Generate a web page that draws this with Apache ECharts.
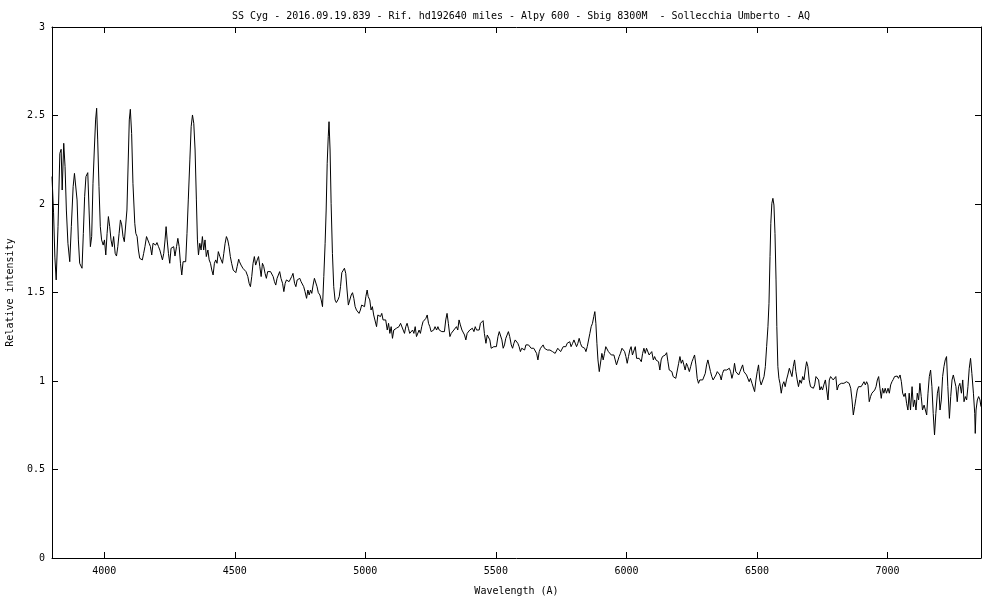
<!DOCTYPE html>
<html>
<head>
<meta charset="utf-8">
<script src="https://cdn.jsdelivr.net/npm/echarts@6/dist/echarts.min.js"></script>
<style>html,body{margin:0;padding:0;background:#fff;}#c{width:1000px;height:600px;}</style>
</head>
<body>
<div id="c"></div>
<script>
const titleText = 'SS Cyg - 2016.09.19.839 - Rif. hd192640 miles - Alpy 600 - Sbig 8300M  - Sollecchia Umberto - AQ';
const xName = 'Wavelength (A)';
const yName = 'Relative intensity';
const xTicks = [4000, 4500, 5000, 5500, 6000, 6500, 7000];

const wavelength = [
3800,3806,3811,3816,3823,3830,3835,3839,3845,3850,3855,3861,3868,3874,3881,3886,3891,3896,3901,3906,3915,3920,3925,3930,3937,3942,3947,3952,3957,3962,3967,3971,3975,3980,3985,3990,3996,4001,4006,4011,4016,4021,4026,4031,4036,4042,4047,4052,4057,4062,4067,4072,4077,4082,4087,4093,4096,4100,4105,4110,4117,4121,4126,4131,4136,4141,4146,4151,4156,4162,4167,4172,4177,4182,4187,4192,4197,4202,4208,4213,4218,4223,4228,4233,4237,4241,4246,4251,4256,4261,4266,4271,4277,4282,4287,4292,4297,4302,4307,4312,4317,4322,4328,4333,4338,4343,4348,4353,4357,4361,4366,4371,4376,4381,4386,4391,4397,4402,4407,4412,4417,4422,4427,4432,4437,4443,4448,4453,4458,4463,4468,4473,4478,4483,4488,4494,4499,4504,4509,4515,
4518,4524,4531,4537,4543,4550,4555,4560,4565,4570,4575,4580,4586,4591,4596,4601,4606,4611,4616,4621,4626,4631,4637,4642,4647,4652,4657,4662,4667,4672,4677,4683,4688,4693,4698,4703,4708,4713,4718,4723,4729,4734,4739,4744,4749,4754,4759,4764,4769,4775,4780,4785,4790,4795,4800,4805,4810,4815,4820,4826,4831,4836,4841,4846,4850,4854,4858,4861,4865,4869,4874,4879,4884,4889,4895,4900,4905,4910,4915,4920,4925,4930,4935,4941,4946,4951,4956,4961,4966,4971,4976,4981,4986,4992,4997,5002,5007,
5011,5017,5022,5027,5032,5038,5043,5048,5053,5058,5063,5068,5073,5078,5084,5089,5094,5099,5104,5109,5114,5119,5124,5129,5135,5140,5145,5150,5155,5160,5165,5170,5175,5181,5186,5191,5196,5201,5206,5211,5216,5221,5227,5232,5237,5242,5247,5252,5257,5262,5267,5273,5278,5283,5288,5293,5298,5303,5308,5313,5318,5324,5329,5334,5339,5344,5349,5354,5359,5364,5370,5375,5380,5385,5390,5395,5400,5405,5410,5416,5421,5426,5431,5436,5441,5446,5451,5456,5462,5467,5472,5477,5482,5487,5492,5497,5502,5508,5513,5518,5523,5528,5533,5538,5543,5548,5553,5559,5564,5569,5574,5579,5584,5589,5594,5599,5605,5610,5615,5620,5625,5630,5635,5640,5645,5651,5656,5661,5666,5671,5676,5681,5686,5691,5697,5702,5707,5712,5717,5722,5727,5732,5737,5742,5748,5753,5758,5763,5768,5773,5778,5783,5788,5794,5799,5804,5809,5814,5819,5824,5829,5834,5840,5845,5850,5855,5860,5865,5870,5875,5879,5883,5887,5891,5896,5901,5906,5911,5916,5921,5926,5931,5937,5942,5947,5952,5957,5962,5967,5972,5977,5983,5988,5993,5998,6003,6008,6013,6018,6023,6028,6034,6039,6044,6049,
6052,6057,6062,6067,6072,6077,6082,6087,6092,6097,6103,6108,6113,6118,6123,6128,6133,6138,6143,6149,6154,6159,6164,6169,6174,6179,6184,6189,6195,6200,6205,6210,6215,6220,6225,6230,6235,6241,6246,6251,6256,6261,6266,6271,6276,6281,6286,6292,6297,6302,6307,6312,6317,6322,6327,6332,6338,6343,6348,6353,6358,6363,6368,6373,6378,6384,6389,6394,6399,6404,6409,6414,6419,6424,6430,6435,6440,6445,6450,6455,6460,6465,6470,6475,6481,6486,6491,6496,6501,6506,6511,6516,6521,6527,6532,6537,6542,6546,6550,6553,6557,6561,6565,6569,6573,6576,6580,6584,6588,6593,6598,6603,6608,6613,6618,6624,6629,6634,6639,6644,6649,6654,6659,6664,6670,6675,6680,6685,6690,6695,6700,6705,6710,6716,6721,6726,6731,6736,6741,6746,6751,6756,6762,6767,6772,6777,6782,6787,6792,6797,6802,6807,6813,6818,6823,6828,6833,6838,6843,6848,6853,6859,6864,6869,6874,6879,6884,6889,6894,6899,6905,6910,6915,6920,6925,6930,6935,6940,6945,6951,6956,6961,6966,6971,6976,6981,6986,6991,6996,7002,7007,7012,7017,7022,7027,7032,7037,7042,7048,7053,7058,7063,7068,7073,7078,7083,7088,7094,7099,7104,7109,7114,7119,7124,7129,7134,7140,7145,7150,7155,7160,7165,7170,7175,7180,7185,7191,7196,7201,7206,7211,7216,7221,7226,7231,7237,7242,7247,7252,7257,7262,7267,7272,7277,7283,7288,7293,7298,7303,7308,7313,7318,7323,7329,7334,7336,7339,7344,7349,7354,7358
];

const intensity = [
2.155,1.95,1.70,1.571,1.872,2.286,2.309,2.079,2.343,2.211,1.966,1.778,1.674,1.872,2.098,2.173,2.183,2.023,1.797,1.665,1.637,1.834,2.041,2.155,2.177,1.966,1.759,1.816,2.117,2.305,2.475,2.541,2.362,2.098,1.872,1.797,1.768,1.797,1.712,1.834,1.929,1.872,1.797,1.759,1.816,1.721,1.706,1.759,1.834,1.910,1.882,1.816,1.787,1.797,1.966,2.305,2.475,2.535,2.399,2.117,1.891,1.834,1.816,1.740,1.693,1.703,1.684,1.721,1.759,1.816,1.797,1.778,1.759,1.712,1.778,1.787,1.768,1.782,1.759,1.740,1.712,1.684,1.721,1.797,1.872,1.797,1.721,1.665,1.750,1.759,1.759,1.706,1.759,1.806,1.759,1.665,1.599,1.674,1.665,1.674,1.834,2.023,2.249,2.437,2.503,2.456,2.305,2.023,1.797,1.712,1.778,1.740,1.816,1.740,1.797,1.703,1.740,1.684,1.665,1.627,1.599,1.665,1.684,1.665,1.731,1.703,1.684,1.665,1.721,1.778,1.816,1.797,1.759,1.703,1.665,1.627,1.631,1.612,1.646,1.688,
1.674,1.655,1.637,1.627,1.618,1.590,1.552,1.533,1.590,1.665,1.703,1.655,1.684,1.703,1.646,1.590,1.665,1.646,1.608,1.580,1.618,1.627,1.618,1.612,1.590,1.561,1.542,1.580,1.590,1.618,1.580,1.552,1.505,1.552,1.571,1.571,1.561,1.571,1.590,1.608,1.552,1.533,1.571,1.561,1.580,1.561,1.552,1.533,1.505,1.467,1.514,1.486,1.514,1.495,1.542,1.580,1.580,1.533,1.499,1.486,1.458,1.420,1.590,1.778,1.966,2.230,2.380,2.465,2.305,2.004,1.721,1.533,1.458,1.443,1.458,1.477,1.533,1.612,1.605,1.637,1.608,1.514,1.429,1.439,1.486,1.499,1.467,1.420,1.401,1.411,1.382,1.401,1.429,1.439,1.420,1.477,1.514,
1.477,1.458,1.401,1.420,1.373,1.364,1.307,1.373,1.382,1.364,1.382,1.345,1.335,1.345,1.288,1.326,1.269,1.307,1.241,1.288,1.288,1.298,1.288,1.307,1.326,1.335,1.288,1.269,1.307,1.326,1.298,1.269,1.260,1.288,1.269,1.307,1.251,1.260,1.288,1.269,1.307,1.335,1.330,1.354,1.373,1.326,1.307,1.279,1.269,1.288,1.307,1.288,1.307,1.288,1.279,1.279,1.288,1.279,1.345,1.382,1.326,1.251,1.269,1.260,1.288,1.288,1.307,1.288,1.345,1.317,1.288,1.298,1.260,1.232,1.269,1.260,1.288,1.279,1.298,1.279,1.307,1.288,1.279,1.288,1.326,1.335,1.341,1.269,1.213,1.260,1.269,1.232,1.185,1.194,1.194,1.185,1.194,1.251,1.279,1.269,1.232,1.185,1.204,1.241,1.260,1.279,1.251,1.204,1.185,1.213,1.232,1.241,1.213,1.194,1.166,1.185,1.194,1.175,1.204,1.194,1.204,1.194,1.185,1.194,1.185,1.194,1.156,1.119,1.166,1.185,1.194,1.204,1.185,1.194,1.175,1.185,1.175,1.185,1.166,1.156,1.156,1.166,1.185,1.185,1.166,1.156,1.194,1.204,1.194,1.213,1.204,1.222,1.194,1.213,1.232,1.222,1.194,1.213,1.241,1.213,1.194,1.185,1.185,1.166,1.194,1.194,1.269,1.307,1.326,1.364,1.392,1.326,1.213,1.119,1.053,1.062,1.156,1.119,1.156,1.194,1.204,1.166,1.156,1.147,1.138,1.147,1.119,1.091,1.091,1.138,1.156,1.185,1.175,1.166,1.138,1.100,1.138,1.175,1.194,1.147,1.156,1.194,1.128,1.119,1.128,
1.119,1.109,1.156,1.185,1.156,1.185,1.194,1.147,1.147,1.166,1.119,1.138,1.119,1.128,1.109,1.062,1.119,1.138,1.147,1.147,1.160,1.109,1.062,1.062,1.053,1.025,1.015,1.015,1.025,1.100,1.138,1.100,1.119,1.091,1.062,1.100,1.081,1.053,1.081,1.109,1.128,1.147,1.091,1.015,0.987,1.006,0.996,1.006,0.996,1.043,1.091,1.119,1.109,1.053,1.025,1.006,1.015,1.034,1.053,1.058,1.034,1.006,1.043,1.062,1.066,1.062,1.053,1.072,1.053,1.015,1.043,1.100,1.053,1.043,1.034,1.053,1.062,1.091,1.053,1.043,1.034,1.025,0.996,1.015,0.987,0.978,0.940,1.006,1.053,1.091,1.006,0.978,0.987,1.025,1.081,1.194,1.307,1.439,1.703,1.891,2.004,2.032,1.994,1.834,1.571,1.307,1.081,1.015,0.987,0.931,0.978,0.996,0.968,1.006,1.034,1.072,1.081,1.025,1.081,1.119,1.053,1.006,0.968,1.006,0.987,1.025,1.006,1.062,1.109,1.081,1.006,0.968,0.978,0.959,0.978,1.025,1.034,1.006,0.949,0.968,0.949,0.978,1.006,1.015,0.893,1.006,1.025,1.034,1.006,0.996,1.025,0.949,0.978,0.983,0.987,0.978,0.987,0.991,0.996,1.006,0.987,0.959,0.893,0.808,0.855,0.902,0.949,0.968,0.978,0.968,0.978,0.996,0.978,0.996,0.978,0.883,0.912,0.931,0.921,0.949,0.968,1.006,1.025,0.959,0.902,0.959,0.931,0.959,0.931,0.959,0.931,0.978,0.996,1.009,1.025,1.034,1.028,1.015,1.034,0.996,0.931,0.912,0.931,0.874,0.836,0.931,0.836,0.968,0.855,0.893,0.836,0.931,0.893,0.987,0.912,0.836,0.864,0.836,0.808,0.931,1.025,1.062,0.968,0.817,0.695,0.817,0.931,0.968,0.836,0.893,1.025,1.081,1.119,1.138,0.968,0.789,0.912,1.006,1.034,1.043,0.968,0.883,0.968,0.987,0.931,1.006,0.883,0.912,0.893,0.968,1.072,1.128,1.043,0.931,0.817,0.704,0.836,0.893,0.912,0.893,0.855
];

const xMin = 3800, xMax = 7358, yMin = 0, yMax = 3, yStep = 0.5;

const seriesData = wavelength.map((w, i) => [w, intensity[i]]);
const FONT = 'DejaVu Sans Mono';
const txt = { color: '#000', fontFamily: FONT, fontSize: 10 };

const chart = echarts.init(document.getElementById('c'), null, { renderer: 'canvas' });
chart.setOption({
  animation: false,
  backgroundColor: '#fff',
  title: {
    text: titleText,
    left: 516, top: 6, textAlign: 'center',
    textStyle: Object.assign({ fontWeight: 'normal' }, txt)
  },
  grid: { left: 52, right: 19, top: 27, bottom: 42, show: false, containLabel: false, outerBoundsMode: 'none' },
  xAxis: [
    {
      type: 'value', min: xMin, max: xMax, position: 'bottom',
      name: xName, nameLocation: 'middle', nameGap: 28, nameTextStyle: txt,
      axisLine: { show: true, onZero: false, lineStyle: { color: '#000', width: 1 } },
      axisTick: { show: true, inside: true, length: 6, customValues: xTicks, lineStyle: { color: '#000' } },
      axisLabel: Object.assign({ customValues: xTicks, margin: 8, formatter: v => String(v) }, txt),
      splitLine: { show: false }
    },
    {
      type: 'value', min: xMin, max: xMax, position: 'top',
      axisLine: { show: true, onZero: false, lineStyle: { color: '#000', width: 1 } },
      axisTick: { show: true, inside: true, length: 6, customValues: xTicks, lineStyle: { color: '#000' } },
      axisLabel: { show: false },
      splitLine: { show: false }
    }
  ],
  yAxis: [
    {
      type: 'value', min: yMin, max: yMax, interval: yStep, position: 'left',
      name: yName, nameLocation: 'middle', nameGap: 37, nameTextStyle: txt,
      axisLine: { show: true, onZero: false, lineStyle: { color: '#000', width: 1 } },
      axisTick: { show: true, inside: true, length: 6, lineStyle: { color: '#000' } },
      axisLabel: Object.assign({ margin: 7, formatter: v => String(v) }, txt),
      splitLine: { show: false }
    },
    {
      type: 'value', min: yMin, max: yMax, interval: yStep, position: 'right',
      axisLine: { show: true, onZero: false, lineStyle: { color: '#000', width: 1 } },
      axisTick: { show: true, inside: true, length: 6, lineStyle: { color: '#000' } },
      axisLabel: { show: false },
      splitLine: { show: false }
    }
  ],
  series: [{
    type: 'line', xAxisIndex: 0, yAxisIndex: 0,
    data: seriesData,
    showSymbol: false, symbol: 'none',
    lineStyle: { color: '#000', width: 1 },
    emphasis: { disabled: true }
  }]
});
</script>
</body>
</html>
